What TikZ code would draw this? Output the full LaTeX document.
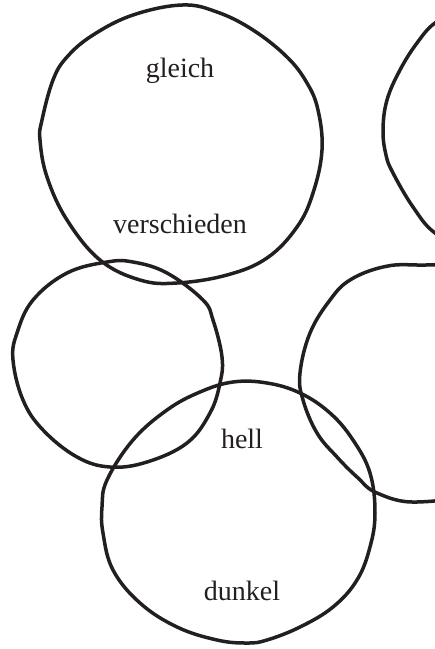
\documentclass[tikz,border=0pt]{standalone}
\usepackage{fontspec}
\setmainfont{Liberation Serif}
\definecolor{inkblack}{RGB}{35,31,32}

\begin{document}
\begin{tikzpicture}[x=1pt,y=-1pt,
    line width=3.5pt, line cap=round, line join=round,
    every node/.style={inner sep=0pt,outer sep=0pt},
    lab/.style={font=\fontsize{28}{33}\selectfont,anchor=base,text=inkblack}]
  \useasboundingbox (0,0) rectangle (435,649);
  \clip (0,0) rectangle (435,649);
  % ---- 左上圈 ----
  \draw[inkblack] plot[smooth cycle,tension=0.65] coordinates {
    (42,120) (53,80) (67,57) (93,35) (133,15) (182,5) (217,12) (253,30)
    (287,57) (307,83) (318,110) (322,150) (313,193) (297,227) (267,258)
    (227,275) (177,283) (140,280) (100,260) (67,220) (47,177) (40,140)};
  % ---- 右上圈（出右边界）----
  \draw[inkblack] plot[smooth cycle,tension=0.65] coordinates {
    (435,23) (417,43) (400,70) (387,100) (383,130) (386,155) (393,173)
    (413,207) (435,233) (470,250) (520,240) (560,200) (575,130) (555,60)
    (500,15) (460,12)};
  % ---- 左中圈 ----
  \draw[inkblack] plot[smooth cycle,tension=0.65] coordinates {
    (33,300) (67,273) (107,262) (133,262) (167,273) (203,300) (213,320)
    (222,357) (220,383) (210,413) (187,443) (147,462) (110,467) (77,457)
    (43,430) (23,400) (13,360) (17,333)};
  % ---- 右中圈（出右边界）----
  \draw[inkblack] plot[smooth cycle,tension=0.65] coordinates {
    (417,265) (383,267) (350,280) (330,300) (310,333) (300,373) (303,400)
    (317,433) (337,457) (357,477) (377,493) (417,502) (480,490) (530,450)
    (550,380) (530,310) (480,270)};
  % ---- 下圈 ----
  \draw[inkblack] plot[smooth cycle,tension=0.65] coordinates {
    (107,480) (133,440) (167,410) (200,392) (233,382) (267,383) (300,393)
    (330,413) (353,440) (370,473) (375,513) (370,547) (357,580) (333,607)
    (300,627) (267,640) (247,643) (217,640) (177,627) (140,603) (113,570)
    (103,533) (102,507)};
  % ---- 文字 ----
  \node[lab] (gleich)      at (180,77)  {gleich};
  \node[lab] (verschieden) at (180,233) {verschieden};
  \node[lab] (hell)        at (242,448) {hell};
  \node[lab] (dunkel)      at (242,600) {dunkel};
\end{tikzpicture}
\end{document}
